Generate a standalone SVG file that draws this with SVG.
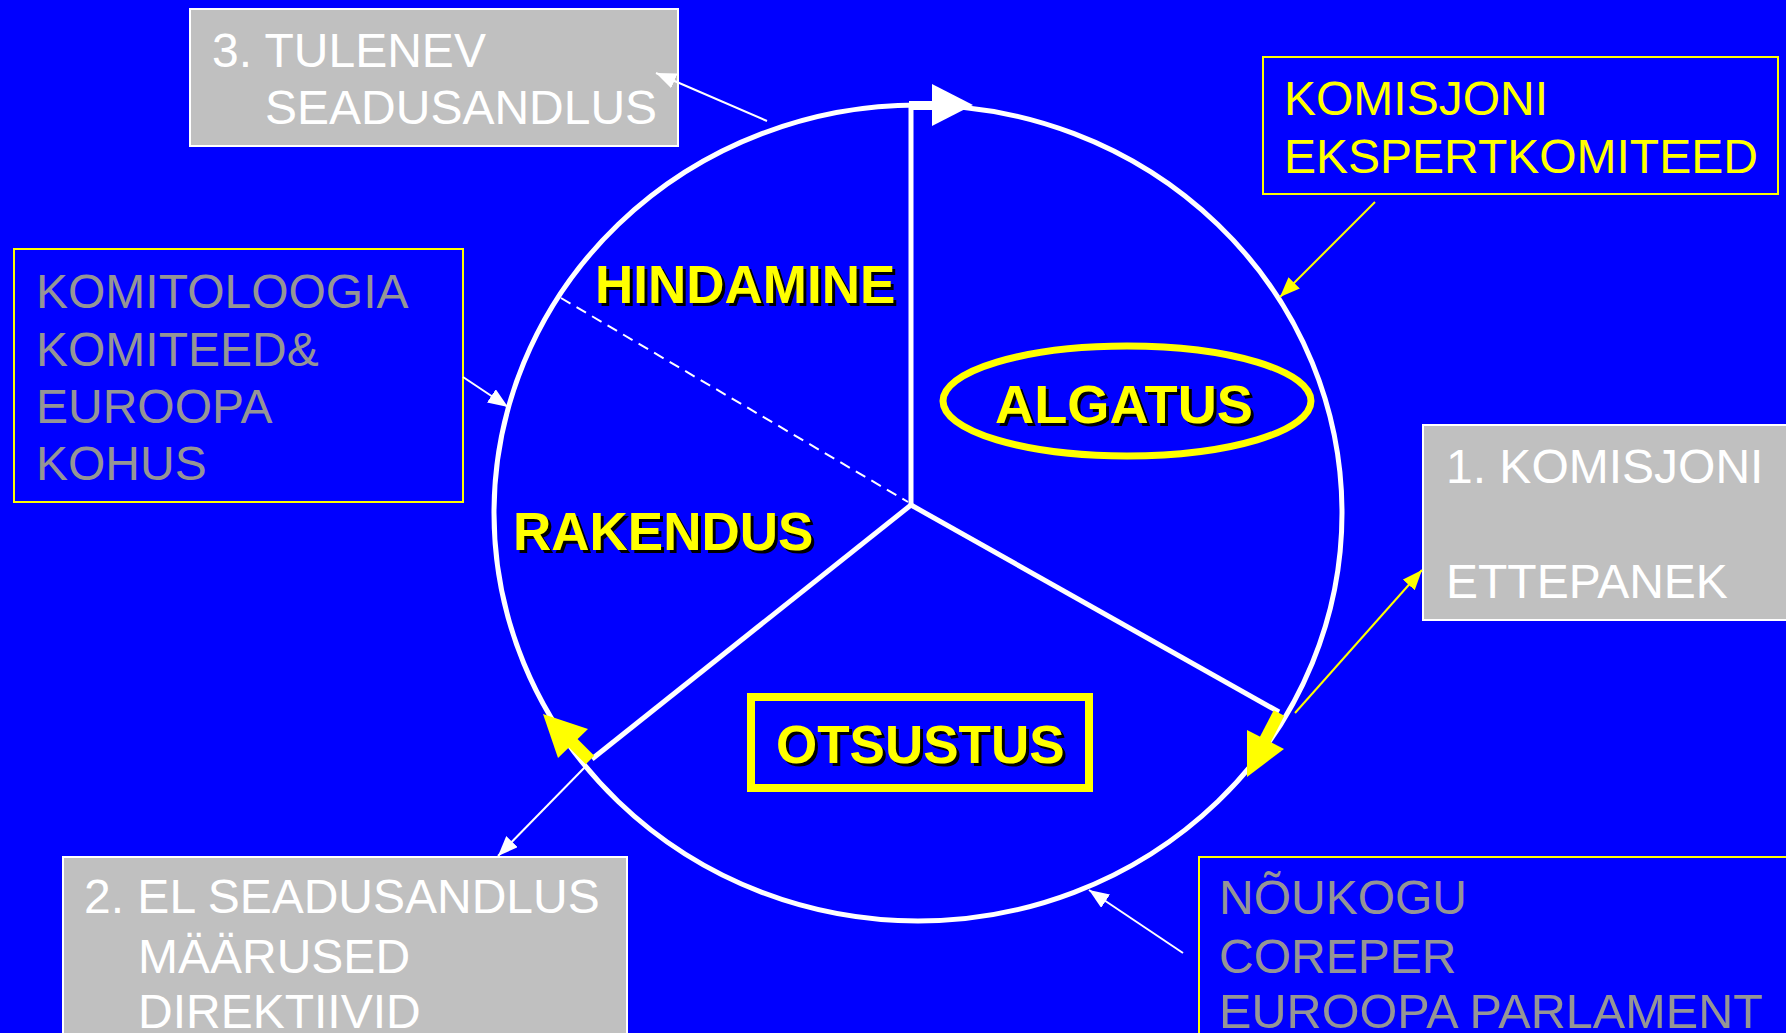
<svg xmlns="http://www.w3.org/2000/svg" width="1786" height="1033" viewBox="0 0 1786 1033">
<defs>
<style>
.t{font-family:"Liberation Sans",Arial,sans-serif;font-size:48px}
.w{fill:#FFFFFF}
.g{fill:#959595}
.y{fill:#FFFF00}
.b{font-family:"Liberation Sans",Arial,sans-serif;font-size:53px;font-weight:bold}
.sh{fill:#000000}
.gbox{fill:#C0C0C0;stroke:#FFFFFF;stroke-width:2}
.ybox{fill:#0000FF;stroke:#FFFF00;stroke-width:2}
.wl{stroke:#FFFFFF;stroke-width:2;fill:none}
.yl{stroke:#FFFF00;stroke-width:2;fill:none}
</style>
<marker id="aw" markerUnits="userSpaceOnUse" markerWidth="20" markerHeight="16" refX="20" refY="8" orient="auto"><path d="M0,0 L20,8 L0,16 z" fill="#FFFFFF"/></marker>
<marker id="ay" markerUnits="userSpaceOnUse" markerWidth="20" markerHeight="16" refX="20" refY="8" orient="auto"><path d="M0,0 L20,8 L0,16 z" fill="#FFFF00"/></marker>
</defs>
<rect x="0" y="0" width="1786" height="1033" fill="#0000FF"/>

<g id="cycle">
<ellipse cx="918" cy="513" rx="424" ry="408" fill="none" stroke="#FFFFFF" stroke-width="5"/>
<line x1="911" y1="103" x2="911" y2="505" stroke="#FFFFFF" stroke-width="5"/>
<line x1="911" y1="505" x2="1279" y2="712" stroke="#FFFFFF" stroke-width="5"/>
<line x1="911" y1="505" x2="592" y2="759" stroke="#FFFFFF" stroke-width="5"/>
<line x1="561" y1="298" x2="908" y2="502" stroke="#FFFFFF" stroke-width="2" stroke-dasharray="11,7"/>
<rect x="909" y="101" width="25" height="9" fill="#FFFFFF"/>
<polygon points="932,84 932,126 973,105" fill="#FFFFFF"/>
<line x1="1279" y1="713" x2="1264" y2="742" stroke="#FFFF00" stroke-width="12"/>
<polygon points="1247,730 1284,749 1247,777" fill="#FFFF00"/>
<line x1="590" y1="760" x2="571" y2="741" stroke="#FFFF00" stroke-width="12"/>
<polygon points="543,714 588,729 558,758" fill="#FFFF00"/>
</g>

<g id="hindamine">
<text class="b sh" x="598" y="306">HINDAMINE</text>
<text class="b y" x="595" y="303">HINDAMINE</text>
</g>
<g id="rakendus">
<text class="b sh" x="516" y="553">RAKENDUS</text>
<text class="b y" x="513" y="550">RAKENDUS</text>
</g>
<g id="algatus">
<ellipse cx="1127" cy="401" rx="184" ry="55" fill="none" stroke="#FFFF00" stroke-width="7"/>
<text class="b sh" x="998" y="426" textLength="258" lengthAdjust="spacingAndGlyphs">ALGATUS</text>
<text class="b y" x="995" y="423" textLength="258" lengthAdjust="spacingAndGlyphs">ALGATUS</text>
</g>
<g id="otsustus">
<rect x="751" y="697" width="338" height="91" fill="none" stroke="#FFFF00" stroke-width="8"/>
<text class="b sh" x="779" y="766">OTSUSTUS</text>
<text class="b y" x="776" y="763">OTSUSTUS</text>
</g>

<g id="tulenev">
<rect class="gbox" x="190" y="9" width="488" height="137"/>
<text class="t w" x="212" y="67">3. TULENEV</text>
<text class="t w" x="265" y="124">SEADUSANDLUS</text>
</g>
<g id="ekspertkomiteed">
<rect class="ybox" x="1263" y="57" width="515" height="137"/>
<text class="t y" x="1284" y="115">KOMISJONI</text>
<text class="t y" x="1284" y="173">EKSPERTKOMITEED</text>
</g>
<g id="komitoloogia">
<rect class="ybox" x="14" y="249" width="449" height="253"/>
<text class="t g" x="36" y="308">KOMITOLOOGIA</text>
<text class="t g" x="36" y="366">KOMITEED&amp;</text>
<text class="t g" x="36" y="423">EUROOPA</text>
<text class="t g" x="36" y="480">KOHUS</text>
</g>
<g id="ettepanek">
<rect class="gbox" x="1423" y="425" width="380" height="195"/>
<text class="t w" x="1446" y="483">1. KOMISJONI</text>
<text class="t w" x="1446" y="598">ETTEPANEK</text>
</g>
<g id="seadusandlus">
<rect class="gbox" x="63" y="857" width="564" height="200"/>
<text class="t w" x="84" y="913">2. EL SEADUSANDLUS</text>
<text class="t w" x="138" y="973">MÄÄRUSED</text>
<text class="t w" x="138" y="1028">DIREKTIIVID</text>
</g>
<g id="noukogu">
<rect class="ybox" x="1199" y="857" width="600" height="200"/>
<text class="t g" x="1219" y="914">NÕUKOGU</text>
<text class="t g" x="1219" y="973">COREPER</text>
<text class="t g" x="1219" y="1028" textLength="544" lengthAdjust="spacingAndGlyphs">EUROOPA PARLAMENT</text>
</g>

<g id="connectors">
<line class="wl" x1="767" y1="121" x2="656" y2="73" marker-end="url(#aw)"/>
<line class="yl" x1="1375" y1="202" x2="1280" y2="297" marker-end="url(#ay)"/>
<line class="wl" x1="463" y1="377" x2="508" y2="407" marker-end="url(#aw)"/>
<line class="yl" x1="1295" y1="713" x2="1422" y2="570" marker-end="url(#ay)"/>
<line class="wl" x1="1183" y1="953" x2="1089" y2="890" marker-end="url(#aw)"/>
<line class="wl" x1="587" y1="765" x2="498" y2="856" marker-end="url(#aw)"/>
</g>
</svg>
